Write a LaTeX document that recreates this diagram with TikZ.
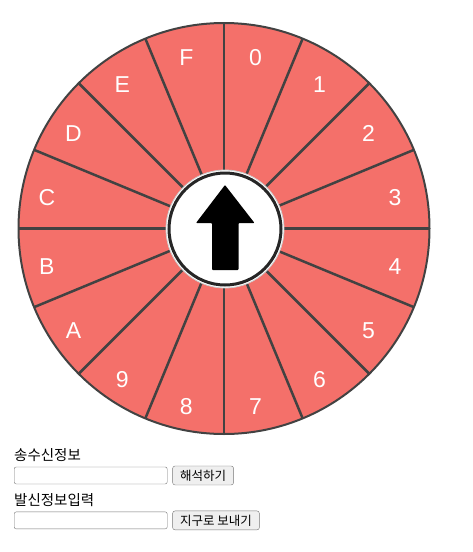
\documentclass[tikz,border=0pt]{standalone}
\usepackage{fontspec}
\setmainfont{Liberation Sans}
\newfontfamily\kor{Noto Sans CJK KR}
\usepackage{tikz}
\usetikzlibrary{positioning}

\definecolor{wheelred}{HTML}{F4706A}
\definecolor{rimgray}{HTML}{424242}
\definecolor{boxgray}{HTML}{767676}
\definecolor{btngray}{HTML}{EFEFEF}

\begin{document}
\begin{tikzpicture}[x=1pt,y=-1pt,
	digit/.style={text=white,font=\fontsize{23}{23}\selectfont},
	caption/.style={anchor=west,inner sep=0pt,font=\kor\fontsize{14.5}{14.5}\selectfont},
	field/.style={draw=boxgray,fill=white,rounded corners=2pt,minimum width=153pt,minimum height=17pt,inner sep=0pt},
	button/.style={draw=boxgray,fill=btngray,rounded corners=2.5pt,minimum height=19pt,inner xsep=7.5pt,inner ysep=0pt,font=\kor\fontsize{12.5}{12.5}\selectfont}]
	\useasboundingbox (0,0) rectangle (472,552);
	\coordinate (hub) at (224,228.5);
	\fill[wheelred] (hub) circle (205.5);
	\foreach \a in {0,22.5,...,337.5}
		\draw[rimgray,line width=2.5pt] (hub) -- ++(\a:205.5);
	\draw[rimgray,line width=2pt] (hub) circle (205.5);

	\foreach \d [count=\i from 0] in {0,1,2,3,4,5,6,7,8,9,A,B,C,D,E,F}
		\path (hub) ++(-3,3.5) ++({-78.75+22.5*\i}:177.5) node[digit] (d\d) {\d};

	\node[circle,fill=white,draw=black!20,line width=0.8pt,minimum size=118pt,inner sep=0pt] (knob) at (225,229) {};
	\draw[black!85,line width=3pt] (knob.center) circle (56);
	\fill[black,rounded corners=0.8pt] (225,185) -- (254.5,223) -- (238.5,223) -- (238.5,270) -- (212,270) -- (212,223) -- (196,223) -- cycle;

	\node[caption] (rxlbl) at (14,455) {송수신정보};
	\node[field] (rxbox) [below=5pt of rxlbl.south west,anchor=north west] {};
	\node[button] (decode) [right=5pt of rxbox] {해석하기};
	\node[caption] (txlbl) [below=9pt of rxbox.south west,anchor=north west] {발신정보입력};
	\node[field] (txbox) [below=5pt of txlbl.south west,anchor=north west] {};
	\node[button] (send) [right=5pt of txbox] {지구로 보내기};
\end{tikzpicture}
\end{document}
